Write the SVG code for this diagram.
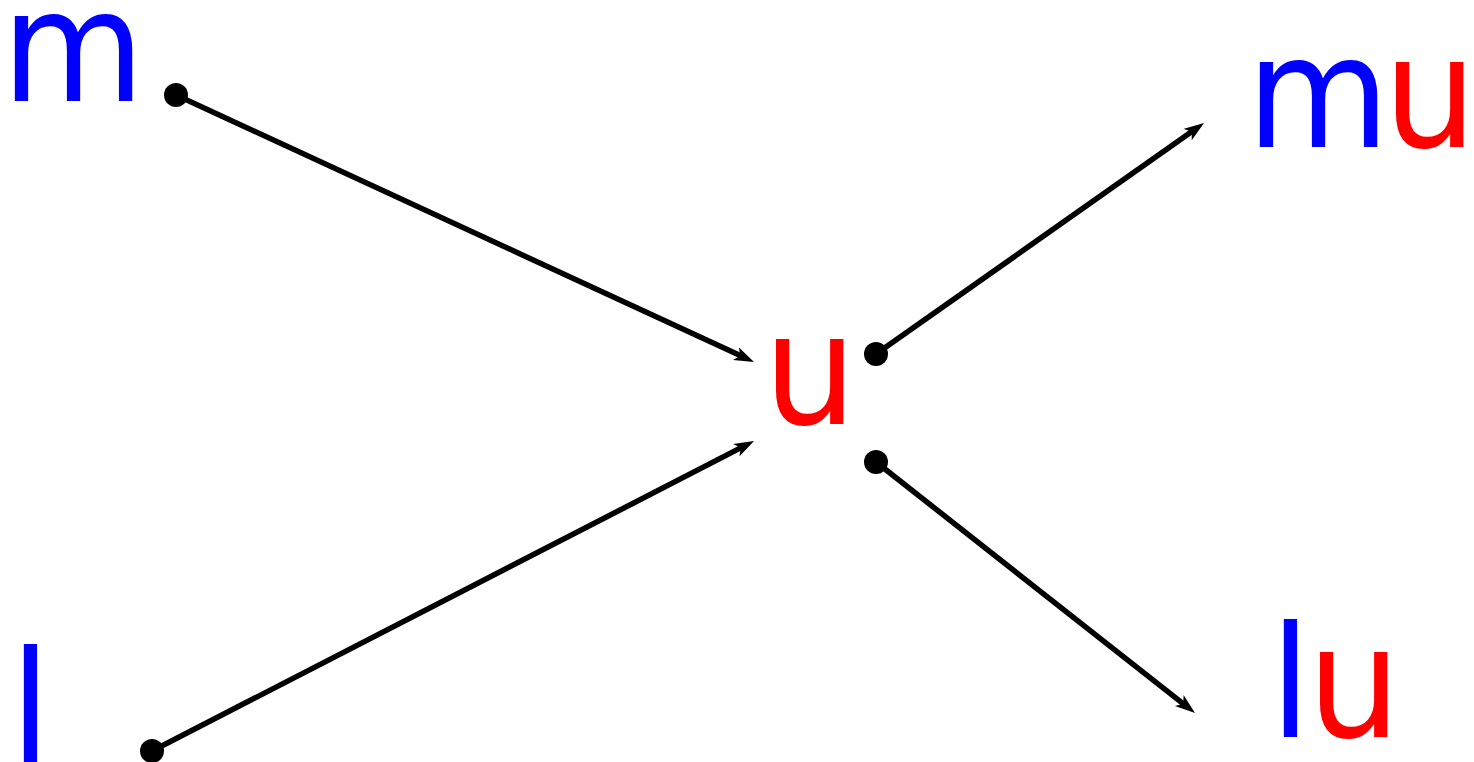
<svg xmlns="http://www.w3.org/2000/svg" width="1474" height="762" viewBox="0 0 1474 762">
<style>
.t{font-family:"DejaVu Sans",sans-serif;font-size:147px}
.b{fill:#0000ff}
.r{fill:#ff0000}
.e{stroke:#000;stroke-width:5.5;fill:none;marker-end:url(#ah)}
.d{fill:#000}
</style>
<defs>
<marker id="ah" markerUnits="userSpaceOnUse" markerWidth="20" markerHeight="14" refX="6" refY="7" orient="auto" viewBox="0 0 20 14">
<path d="M0,0 L20,7 L0,14 L5,7 Z" fill="#000"/>
</marker>
</defs>
<rect width="1474" height="762" fill="#fff"/>
<g id="node-m" transform="translate(0,101) scale(1,1.05)"><text class="t b" x="1.6" y="0">m</text></g>
<g id="node-l" transform="translate(0,762) scale(1,1.05)"><text class="t b" x="10" y="0">l</text></g>
<g id="node-u" transform="translate(0,424) scale(1,1.05)"><text class="t r" x="763.5" y="0">u</text></g>
<g id="node-mu" transform="translate(0,147) scale(1,1.05)"><text class="t" y="0"><tspan class="b" x="1246.6">m</tspan><tspan class="r" x="1383.5">u</tspan></text></g>
<g id="node-lu" transform="translate(0,737) scale(1,1.05)"><text class="t" y="0"><tspan class="b" x="1270">l</tspan><tspan class="r" x="1307.5">u</tspan></text></g>
<g id="connectors">
<path class="e" d="M176,95 L741.3,356.1"/>
<circle class="d" cx="176" cy="95" r="12"/>
<path class="e" d="M152,751 L741.6,447.4"/>
<circle class="d" cx="152" cy="751" r="12"/>
<path class="e" d="M876,354 L1192.6,131.1"/>
<circle class="d" cx="876" cy="354" r="12"/>
<path class="e" d="M876,462 L1184,704.3"/>
<circle class="d" cx="876" cy="462" r="12"/>
</g>
</svg>
